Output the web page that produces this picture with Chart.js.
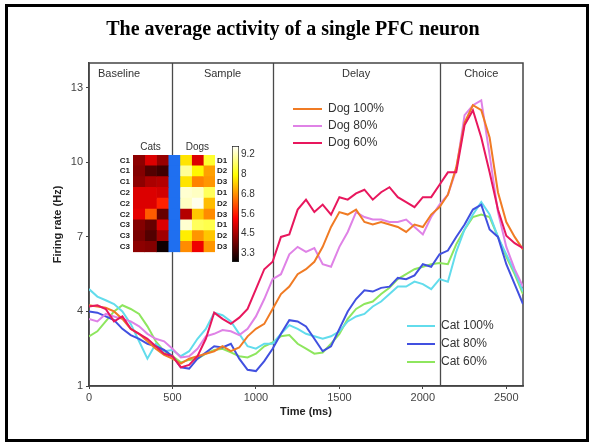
<!DOCTYPE html>
<html><head><meta charset="utf-8">
<script src="https://cdn.jsdelivr.net/npm/chart.js@4.4.0/dist/chart.umd.min.js"></script>
<style>
html,body{margin:0;padding:0;background:#fff;}
#wrap{position:relative;width:591px;height:444px;overflow:hidden;background:#fff;}
#frame{position:absolute;left:5px;top:4px;width:584px;height:438px;border:3px solid #000;box-sizing:border-box;pointer-events:none;}
canvas{position:absolute;}
#main{left:0;top:0;}
#heat{left:100px;top:133px;}
#cbar{left:230px;top:138px;}
</style></head><body>
<div id="wrap">
<canvas id="main" width="591" height="444"></canvas>
<canvas id="heat" width="130" height="127"></canvas>
<canvas id="cbar" width="40" height="132"></canvas>
<div id="frame"></div>
</div>
<script>
// ---------- data ----------
const chartTitle = 'The average activity of a single PFC neuron';
const timesMs = [0,50,100,150,200,250,300,350,400,450,500,550,600,650,700,750,800,850,900,950,1000,1050,1100,1150,1200,1250,1300,1350,1400,1450,1500,1550,1600,1650,1700,1750,1800,1850,1900,1950,2000,2050,2100,2150,2200,2250,2300,2350,2400,2450,2500,2550,2600];
const dog100 = [4.25,4.2,4.15,4.0,3.7,3.3,3.1,2.8,2.5,2.25, 2.1,1.9,2.1,2.2,2.3,2.4,2.6,2.4,2.55,3.0, 3.3,3.5,4.1,4.7,5.0,5.5,5.7,6.0,6.6,7.4, 8.0,7.9,8.1,7.6,7.5,7.6,7.5,7.4,7.2,7.5, 7.4,7.9,8.2,8.7,9.8,11.6,12.3,12.1,11.0,8.8, 7.6,7.0,6.5];
const dog80  = [3.7,3.6,3.9,3.8,3.7,3.6,3.4,3.1,2.9,2.8, 2.5,2.15,2.2,2.5,3.0,3.1,3.25,3.2,3.05,3.3, 3.8,4.5,5.3,5.5,6.3,6.6,6.4,6.55,5.9,5.8, 6.6,7.2,8.0,7.8,7.7,7.7,7.6,7.6,7.7,7.4, 7.1,7.8,8.3,8.7,9.7,11.9,12.3,12.5,10.3,8.0, 6.6,5.7,5.0];
const dog60  = [4.2,4.25,4.1,3.6,3.8,3.3,3.1,2.9,2.6,2.3, 2.2,1.75,1.85,2.2,2.9,3.95,3.7,3.5,3.75,4.1, 4.9,5.7,6.0,7.0,7.1,8.1,8.5,8.0,8.3,7.9, 8.6,8.5,8.75,8.9,8.5,8.8,9.0,8.6,8.4,8.2, 8.6,8.6,9.1,9.6,9.6,11.5,12.1,11.0,9.6,8.1, 7.05,6.75,6.55];
const cat100 = [4.9,4.6,4.45,4.3,4.0,3.5,2.8,2.1,2.7,2.4, 2.45,2.2,2.4,2.9,3.3,3.95,3.85,3.6,3.1,2.6, 2.5,2.7,2.7,3.1,3.45,3.3,3.1,3.0,2.9,3.0, 3.2,3.6,3.8,3.9,4.2,4.4,4.7,5.0,5.0,5.2, 5.1,4.9,5.3,5.2,6.4,7.3,7.9,8.4,7.9,7.0, 6.3,5.6,4.8];
const cat80  = [4.0,3.95,3.8,3.65,3.3,3.05,2.9,2.7,2.6,2.45, 2.2,1.75,1.7,2.1,2.35,2.6,2.55,2.7,2.1,1.65, 1.6,2.0,2.5,3.1,3.65,3.6,3.4,2.9,2.4,2.6, 3.3,4.0,4.5,4.85,4.8,4.95,5.0,5.35,5.3,5.45, 5.9,5.8,6.3,6.45,7.0,7.5,8.1,8.3,7.3,7.0, 5.9,5.1,4.3];
const cat60  = [3.0,3.2,3.6,4.0,4.25,4.1,3.9,3.4,2.8,2.4, 2.2,1.95,2.05,2.1,2.3,2.45,2.5,2.35,2.2,2.15, 2.3,2.6,2.75,3.0,3.05,2.7,2.5,2.3,2.35,2.7, 3.1,3.7,4.1,4.3,4.4,4.7,4.95,5.3,5.5,5.7, 5.8,5.9,5.95,5.9,6.7,7.3,7.8,7.9,7.8,7.0, 6.2,5.5,4.7];

const seriesNames = ['Dog 100%','Dog 80%','Dog 60%','Cat 100%','Cat 80%','Cat 60%'];
const xTicks = [0,500,1000,1500,2000,2500];
const yTicks = [1,4,7,10,13];
const phaseBounds = [500,1100,2100];
const phaseNames = ['Baseline','Sample','Delay','Choice'];
const phaseLabelAt = [180,800,1600,2350];

// inset heat map (firing rate per sample, rows top to bottom)
const catRowLabels = ['C1','C1','C1','C2','C2','C2','C3','C3','C3'];
const dogRowLabels = ['D1','D2','D3','D1','D2','D3','D1','D2','D3'];
const catRates = [[4.2,5.0,4.3],[4.1,3.6,3.4],[4.2,4.5,4.6],[5.0,5.0,4.9],[5.0,5.0,5.7],[5.1,6.3,3.8],[4.1,3.8,5.0],[4.0,3.6,4.4],[4.2,4.1,2.9]];
const dogRates = [[7.7,5.0,8.3],[9.0,7.9,7.0],[7.7,6.7,6.9],[9.4,9.3,8.6],[9.3,9.6,7.3],[4.6,7.4,6.8],[9.4,8.6,8.5],[7.8,6.9,7.4],[6.8,5.2,6.9]];
const groupLabels = ['Cats','Dogs'];
const colorbarTicks = [3.3,4.5,5.6,6.8,8,9.2];
const cbMin = 2.75, cbMax = 9.72;

// ---------- styles ----------
const SANS = '"Liberation Sans", Arial, Helvetica, sans-serif';
const colors = {'Dog 100%':'#f07b24','Dog 80%':'#df82e6','Dog 60%':'#e8175d','Cat 100%':'#62dcec','Cat 80%':'#4150e0','Cat 60%':'#8ee65e'};
const seriesData = {'Dog 100%':dog100,'Dog 80%':dog80,'Dog 60%':dog60,'Cat 100%':cat100,'Cat 80%':cat80,'Cat 60%':cat60};
const drawOrder = ['Dog 60%','Dog 100%','Dog 80%','Cat 80%','Cat 100%','Cat 60%'];

function hot(v){
  const n = Math.max(0, Math.min(1, (v - cbMin) / (cbMax - cbMin)));
  const r = Math.min(1, n / 0.375);
  const g = Math.max(0, Math.min(1, (n - 0.375) / 0.375));
  const b = Math.max(0, Math.min(1, (n - 0.75) / 0.25));
  return `rgb(${Math.round(r*255)},${Math.round(g*255)},${Math.round(b*255)})`;
}

const overlay = {
  id:'overlay',
  beforeDatasetsDraw(chart){
    const {ctx, chartArea:a, scales:{x}} = chart;
    ctx.save();
    ctx.fillStyle = '#000'; ctx.font = 'bold 20px "Liberation Serif", "Times New Roman", serif';
    ctx.textAlign = 'center'; ctx.textBaseline = 'middle';
    ctx.fillText(chartTitle, 293, 30);
    ctx.strokeStyle = '#4a4a4a'; ctx.lineWidth = 1.3;
    phaseBounds.forEach(t => {
      const px = Math.round(x.getPixelForValue(t)) + 0.5;
      ctx.beginPath(); ctx.moveTo(px, a.top); ctx.lineTo(px, a.bottom); ctx.stroke();
    });
    ctx.strokeStyle = '#444'; ctx.lineWidth = 1.5;
    ctx.strokeRect(a.left, a.top, a.right - a.left, a.bottom - a.top);
    ctx.fillStyle = '#333'; ctx.font = '11px ' + SANS; ctx.textAlign = 'center'; ctx.textBaseline = 'middle';
    phaseNames.forEach((n, i) => ctx.fillText(n, x.getPixelForValue(phaseLabelAt[i]), a.top + 11));
    ctx.restore();
  },
  afterDatasetsDraw(chart){
    const ctx = chart.ctx;
    ctx.save();
    ctx.font = '12px ' + SANS; ctx.textAlign = 'left'; ctx.textBaseline = 'middle'; ctx.lineWidth = 2;
    const groups = [
      {names: seriesNames.slice(0,3), x0: 293, x1: 322, tx: 328, y0: 109, dy: 17},
      {names: seriesNames.slice(3), x0: 407, x1: 435, tx: 441, y0: 326, dy: 18}
    ];
    groups.forEach(g => g.names.forEach((n, i) => {
      const yy = g.y0 + i * g.dy;
      ctx.strokeStyle = colors[n];
      ctx.beginPath(); ctx.moveTo(g.x0, yy); ctx.lineTo(g.x1, yy); ctx.stroke();
      ctx.fillStyle = '#333'; ctx.fillText(n, g.tx, yy);
    }));
    ctx.restore();
  }
};

new Chart(document.getElementById('main'), {
  type: 'line',
  data: {
    datasets: drawOrder.map(n => ({
      label: n,
      data: timesMs.map((t, i) => ({x: t, y: seriesData[n][i]})),
      borderColor: colors[n], borderWidth: 2, pointRadius: 0, tension: 0, fill: false
    }))
  },
  options: {
    responsive: false, animation: false, devicePixelRatio: 1,
    layout: {padding: {left: 47, right: 68, top: 63, bottom: 21}},
    plugins: {legend: {display: false}, tooltip: {enabled: false}, title: {display: false}},
    scales: {
      x: {
        type: 'linear', min: 0, max: 2600,
        afterBuildTicks: s => { s.ticks = xTicks.map(v => ({value: v})); },
        afterFit: s => { s.height = 37; },
        grid: {drawOnChartArea: false, drawTicks: true, tickLength: 3, color: '#444'},
        border: {display: true, color: '#444', width: 1.5},
        ticks: {callback: v => String(v), font: {family: SANS, size: 11}, color: '#444', padding: 2, maxRotation: 0},
        title: {display: true, text: 'Time (ms)', font: {family: SANS, size: 11, weight: 'bold'}, color: '#222', padding: {top: 0, bottom: 4}}
      },
      y: {
        type: 'linear', min: 1, max: 14,
        afterBuildTicks: s => { s.ticks = yTicks.map(v => ({value: v})); },
        afterFit: s => { s.width = 42; },
        grid: {drawOnChartArea: false, drawTicks: true, tickLength: 3, color: '#444'},
        border: {display: true, color: '#444', width: 1.5},
        ticks: {callback: v => String(v), font: {family: SANS, size: 11}, color: '#444', padding: 3},
        title: {display: true, text: 'Firing rate (Hz)', font: {family: SANS, size: 11, weight: 'bold'}, color: '#222', padding: {top: 4, bottom: 4}}
      }
    }
  },
  plugins: [overlay]
});

// ---------- inset heat map ----------
const heatColumns = [
  ...[0,1,2].map(j => catRates.map(r => hot(r[j]))),
  catRates.map(() => '#1f6ff0'),
  ...[0,1,2].map(j => dogRates.map(r => hot(r[j])))
];
new Chart(document.getElementById('heat'), {
  type: 'bar',
  data: {
    labels: catRowLabels,
    datasets: heatColumns.map(cols => ({
      data: cols.map(() => 1),
      backgroundColor: cols, borderWidth: 0,
      barPercentage: 1, categoryPercentage: 1
    }))
  },
  options: {
    indexAxis: 'y', responsive: false, animation: false, devicePixelRatio: 1,
    layout: {padding: {left: 0, right: 0, top: 0, bottom: 3}},
    plugins: {legend: {display: false}, tooltip: {enabled: false}},
    scales: {
      x: {
        type: 'linear', stacked: true, min: 0, max: 7, position: 'top',
        afterBuildTicks: s => { s.ticks = [{value: 1.5}, {value: 5.5}]; },
        afterFit: s => { s.height = 22; },
        ticks: {callback: (v, i) => groupLabels[i], font: {family: SANS, size: 10}, color: '#333', padding: 2, maxRotation: 0},
        grid: {display: false, drawTicks: false}, border: {display: false}
      },
      y: {
        type: 'category', stacked: true, offset: true,
        afterFit: s => { s.width = 33; },
        ticks: {font: {family: SANS, size: 8, weight: 'bold'}, color: '#222', padding: 3, autoSkip: false},
        grid: {display: false, drawTicks: false}, border: {display: false}
      },
      y2: {
        type: 'category', labels: dogRowLabels, position: 'right', offset: true,
        afterFit: s => { s.width = 15; },
        ticks: {font: {family: SANS, size: 8, weight: 'bold'}, color: '#222', padding: 2, autoSkip: false},
        grid: {display: false, drawTicks: false}, border: {display: false}
      }
    }
  }
});

// ---------- colour bar ----------
new Chart(document.getElementById('cbar'), {
  type: 'bar',
  data: {
    labels: [''],
    datasets: [{
      data: [[cbMin, cbMax]],
      backgroundColor: (c) => {
        const a = c.chart.chartArea;
        if (!a) return '#f00';
        const g = c.chart.ctx.createLinearGradient(0, a.bottom, 0, a.top);
        g.addColorStop(0, hot(cbMin)); g.addColorStop(0.375, hot(cbMin + 0.375*(cbMax-cbMin)));
        g.addColorStop(0.75, hot(cbMin + 0.75*(cbMax-cbMin))); g.addColorStop(1, hot(cbMax));
        return g;
      },
      borderColor: '#222', borderWidth: 1, borderSkipped: false,
      barPercentage: 1, categoryPercentage: 1
    }]
  },
  options: {
    responsive: false, animation: false, devicePixelRatio: 1,
    layout: {padding: {left: 2, right: 0, top: 6, bottom: 6}},
    plugins: {legend: {display: false}, tooltip: {enabled: false}},
    scales: {
      x: {display: false},
      y: {
        type: 'linear', min: cbMin, max: cbMax, position: 'right',
        afterBuildTicks: s => { s.ticks = colorbarTicks.map(v => ({value: v})); },
        afterFit: s => { s.width = 31; },
        ticks: {callback: v => String(v), font: {family: SANS, size: 10}, color: '#333', padding: 2},
        grid: {display: false, drawTicks: false}, border: {display: false}
      }
    }
  }
});
</script>
</body></html>
